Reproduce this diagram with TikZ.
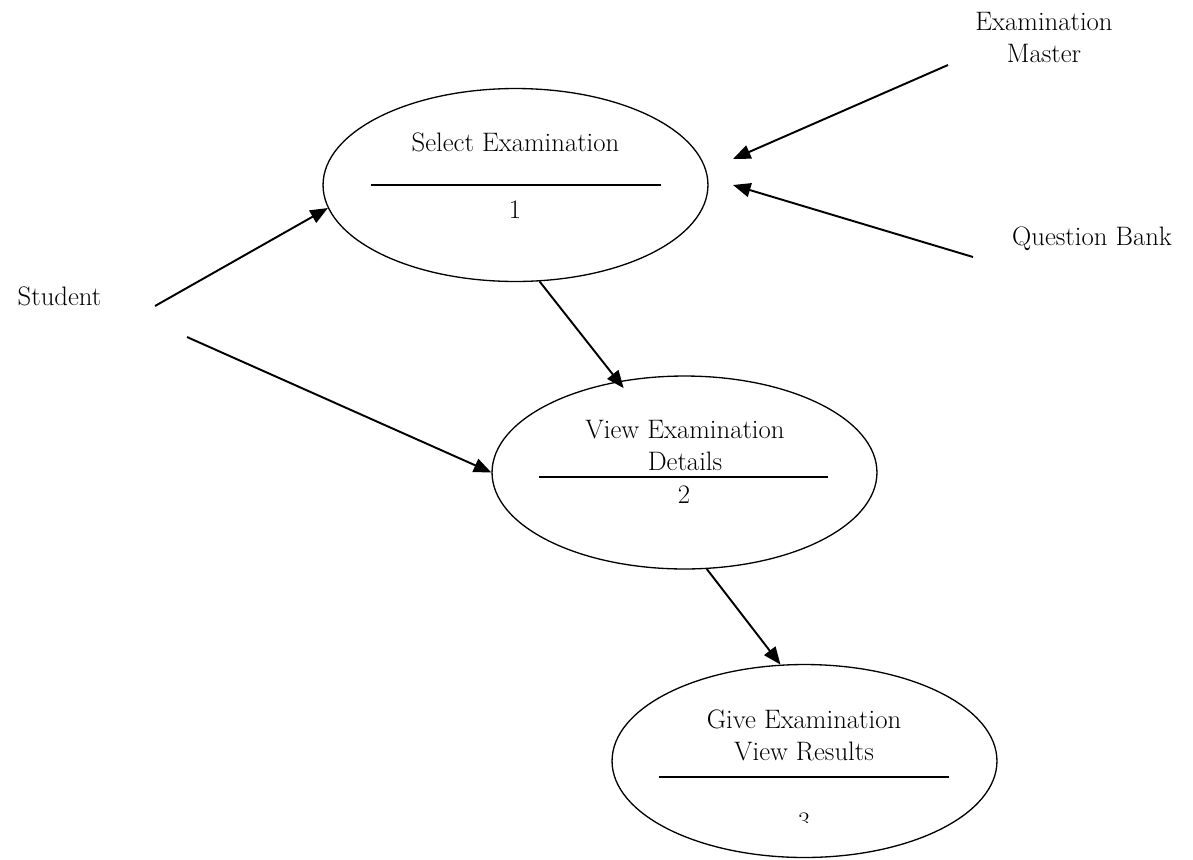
\documentclass[tikz,border=0pt]{standalone}
\usetikzlibrary{shapes.geometric,arrows.meta}
\begin{document}
\begin{tikzpicture}[x=0.02cm,y=-0.02cm,
  font=\fontsize{15.2}{18.2}\selectfont,
  process/.style={ellipse,draw=black,line width=0.75pt,minimum width=7.7cm,minimum height=3.86cm},
  flow/.style={-{Triangle[length=10pt,width=8pt]},line width=1.1pt},
  divider/.style={line width=0.85pt}]
\useasboundingbox (0,0) rectangle (1193,859);
\node[process] (P1) at (515.5,185) {};
\node[process] (P2) at (684.5,472.5) {};
\node[process] (P3) at (804.5,761) {};
\node[anchor=base] (t1) at (515.5,151) {Select Examination};
\draw[divider] (371,185) -- (661,185);
\node[anchor=base] (n1) at (515,218) {1};
\node[anchor=base,align=center] (t2) at (685,470) {View Examination\\Details};
\draw[divider] (539,477) -- (828,477);
\node[anchor=base] (n2) at (684,503) {2};
\node[anchor=base,align=center] (t3) at (804,760) {Give Examination\\View Results};
\draw[divider] (659,777) -- (949,777);
\begin{scope}
\clip (700,790) rectangle (900,822);
\node[anchor=base] (n3) at (804,830) {3};
\end{scope}
\node[anchor=base] (S) at (59.5,305) {Student};
\node[anchor=base,align=center] (EM) at (1044,62) {Examination\\Master};
\node[anchor=base] (QB) at (1092,245) {Question Bank};
\coordinate (s1) at (155,306);
\coordinate (s2) at (187,337);
\coordinate (em) at (948,65);
\coordinate (emIn) at (733,159);
\coordinate (qb) at (973,257);
\coordinate (qbIn) at (733,185);
\draw[flow] (s1) -- (P1.187);
\draw[flow] (s2) -- (P2.west);
\draw[flow] (em) -- (emIn);
\draw[flow] (qb) -- (qbIn);
\draw[flow,shorten >=-5pt] (P1.284.5) -- (P2.126.6);
\draw[flow] (P2.283.7) -- (P3.104.7);
\end{tikzpicture}
\end{document}
